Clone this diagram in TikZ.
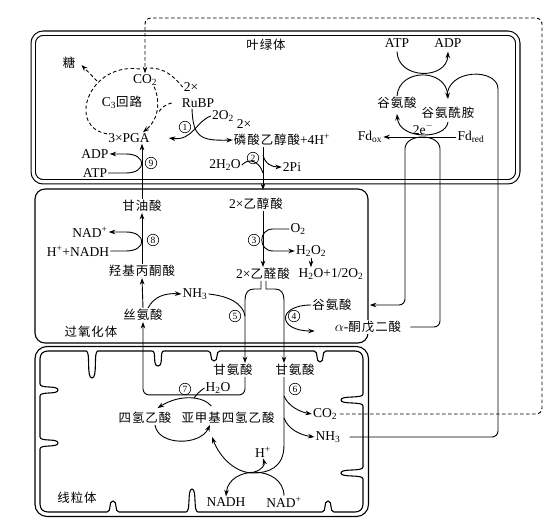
\documentclass[tikz,border=0pt]{standalone}
\usepackage{fontspec}
\setmainfont{Liberation Serif}
\newfontfamily\cjk[Scale=0.92,LetterSpace=8]{Noto Sans CJK SC}
\usetikzlibrary{arrows.meta}

\newcommand{\zh}[1]{{\cjk #1}}

\tikzset{
  lbl/.style={inner sep=1pt},
  circnum/.style={circle, draw, line width=0.6pt, inner sep=0pt, minimum size=11.5pt, font=\fontsize{9.5}{9.5}\selectfont},
  conn/.style={line width=0.9pt},
  arr/.style={conn, -{Stealth[length=6.5pt,width=4.6pt]}},
  dashconn/.style={conn, dash pattern=on 3.5pt off 2.5pt},
  membrane/.style={line width=1.1pt},
}

\begin{document}
\begin{tikzpicture}[x=1pt, y=-1pt, font=\fontsize{13.5}{15}\selectfont]
\useasboundingbox (0,0) rectangle (555,529);

% membranes
\draw[membrane, double, double distance=3.2pt, rounded corners=10] (33.2,33.2) rectangle (517.8,181.8);
\draw[membrane, rounded corners=10] (35,189) rectangle (368,343);
\draw[membrane, rounded corners=12] (35,346.5) rectangle (368.5,516.5);
\draw[membrane] (48,351)
  -- (86,351) .. controls (91,351) and (86,378) .. (92,378) .. controls (98,378) and (93,351) .. (98,351)
  -- (152,351) .. controls (157,351) and (152,366) .. (158,366) .. controls (164,366) and (159,351) .. (164,351)
  -- (208,351) .. controls (213,351) and (209,361) .. (214,361) .. controls (219,361) and (215,351) .. (220,351)
  -- (314,351) .. controls (319,351) and (315,362) .. (320,362) .. controls (325,362) and (321,351) .. (326,351)
  -- (355,351) .. controls (360,351) and (363,354) .. (363,359)
  -- (363,394) .. controls (363,399) and (341,395) .. (341,400) .. controls (341,405) and (363,401) .. (363,406)
  -- (363,467) .. controls (363,472) and (341,468) .. (341,473) .. controls (341,478) and (363,474) .. (363,479)
  -- (363,504) .. controls (363,509) and (360,512) .. (355,512)
  -- (334,512) .. controls (329,512) and (333,501) .. (328,501) .. controls (323,501) and (327,512) .. (322,512)
  -- (198,512) .. controls (193,512) and (197,489) .. (192,489) .. controls (187,489) and (191,512) .. (186,512)
  -- (119,512) .. controls (114,512) and (118,501) .. (113,501) .. controls (108,501) and (112,512) .. (107,512)
  -- (48,512) .. controls (43,512) and (40,509) .. (40,504)
  -- (40,449) .. controls (40,444) and (58,448) .. (58,443) .. controls (58,438) and (40,442) .. (40,437)
  -- (40,396) .. controls (40,391) and (58,395) .. (58,390) .. controls (58,385) and (40,389) .. (40,384)
  -- (40,359) .. controls (40,354) and (43,351) .. (48,351) -- cycle;

% chloroplast
\node[lbl] (yelv) at (266,45) {\zh{叶绿体}};
\node[lbl] (tang) at (69,63) {\zh{糖}};
\node[lbl] (co2a) at (145,80) {CO\textsubscript{2}};
\node[lbl] (c3) at (122,102) {C\textsubscript{3}\zh{回路}};
\node[lbl] (times1) at (191,87) {2×};
\node[lbl] (rubp) at (198,103) {RuBP};
\node[lbl] (pga) at (129,138) {3×PGA};
\node[circnum] (n1) at (185,127) {1};
\node[lbl] (o2a) at (223,116) {2O\textsubscript{2}};
\node[lbl] (times2) at (244,124) {2×};
\node[lbl] (plyc) at (282,140) {\zh{磷酸乙醇酸}+4H\textsuperscript{+}};
\node[lbl] (h2oa) at (225,165) {2H\textsubscript{2}O};
\node[circnum] (n2) at (253,158) {2};
\node[lbl] (pi2) at (292,167) {2Pi};
\node[lbl] (adp9) at (95,154) {ADP};
\node[lbl] (atp9) at (95,173) {ATP};
\node[circnum] (n9) at (151,163) {9};
\node[lbl] (atpc) at (397,43) {ATP};
\node[lbl] (adpc) at (448,43) {ADP};
\node[lbl] (gluc) at (397,103) {\zh{谷氨酸}};
\node[lbl] (glnc) at (448,113) {\zh{谷氨酰胺}};
\node[lbl] (elec) at (423,129) {2e\textsuperscript{$-$}};
\node[lbl] (fdox) at (370,137) {Fd\textsubscript{ox}};
\node[lbl] (fdred) at (471,137) {Fd\textsubscript{red}};

% peroxisome
\node[lbl] (glyc) at (142,206) {\zh{甘油酸}};
\node[circnum] (n8) at (153,240) {8};
\node[lbl] (nad8) at (90,232) {NAD\textsuperscript{+}};
\node[lbl] (nadh8) at (78,251) {H\textsuperscript{+}+NADH};
\node[lbl] (hpyr) at (142,271) {\zh{羟基丙酮酸}};
\node[lbl] (ser) at (143,315) {\zh{丝氨酸}};
\node[lbl] (nh3p) at (195,294) {NH\textsubscript{3}};
\node[lbl] (guo) at (91,332) {\zh{过氧化体}};
\node[lbl] (glyo) at (256,204) {2×\zh{乙醇酸}};
\node[circnum] (n3) at (254,240) {3};
\node[lbl] (o2b) at (298,229) {O\textsubscript{2}};
\node[lbl] (h2o2b) at (311,251) {H\textsubscript{2}O\textsubscript{2}};
\node[lbl] (h2oh) at (331,274) {H\textsubscript{2}O+1/2O\textsubscript{2}};
\node[lbl] (glyx) at (263,274) {2×\zh{乙醛酸}};
\node[circnum] (n5) at (235,316) {5};
\node[circnum] (n4) at (294,316) {4};
\node[lbl] (glup) at (332,305) {\zh{谷氨酸}};
\node[lbl, fill=white] (akg) at (368,327) {$\alpha$-\zh{酮戊二酸}};

% mitochondrion
\node[lbl] (glya) at (233,370) {\zh{甘氨酸}};
\node[lbl] (glyb) at (295,370) {\zh{甘氨酸}};
\node[circnum] (n7) at (185,389) {7};
\node[lbl] (h2om) at (218,388) {H\textsubscript{2}O};
\node[circnum] (n6) at (295,389) {6};
\node[lbl] (thf) at (145,418) {\zh{四氢乙酸}};
\node[lbl] (mthf) at (228,418) {\zh{亚甲基四氢乙酸}};
\node[lbl] (co2m) at (325,414) {CO\textsubscript{2}};
\node[lbl] (nh3m) at (328,437) {NH\textsubscript{3}};
\node[lbl] (hplus) at (263,452) {H\textsuperscript{+}};
\node[lbl] (nadhm) at (226,502) {NADH};
\node[lbl] (nadm) at (284,502) {NAD\textsuperscript{+}};
\node[lbl] (xian) at (77,498) {\zh{线粒体}};

% long return lines
\draw[dashconn, arr, rounded corners=6] ([xshift=2pt]co2m.east) -| (542,18) -| (co2a.north);
\draw[conn, rounded corners=6] ([xshift=8pt]nh3m.east) -| (498,95) .. controls (498,68) and (447,68) .. (447,97);

% Calvin cycle and oxygenation
\draw[dashconn] (140,69) .. controls (88,62) and (66,128) .. (108,134);
\draw[dashconn, arr] (97,81) -- ([shift={(5pt,-2pt)}]tang.east);
\draw[dashconn] (150,68) .. controls (163,68) and (173,75) .. (times1.west);
\draw[dashconn, arr] ([xshift=-4pt]co2a.south east) .. controls (160,100) and (160,118) .. ([xshift=14pt]pga.north);
\draw[dashconn] ([xshift=-9pt]rubp.west) .. controls (166,104) and (161,108) .. (158,113);
\draw[arr] ([xshift=-6pt]rubp.south) .. controls (193,137) and (200,141) .. (plyc.west);
\draw[arr] (o2a.west) .. controls (196,121) and (193,141) .. ([xshift=18pt]pga.east);

% step 2
\draw[arr, shorten >=7pt] ([xshift=-19pt]plyc.south) -- ([xshift=7pt]glyo.north);
\draw[conn] (h2oa.east) .. controls (248,158) and (259,160) .. (263,173);
\draw[arr] (263,155) .. controls (265,164) and (272,167) .. (pi2.west);

% step 9
\draw[arr] (glyc.north) -- (glyc.north |- pga.south);
\draw[arr] (atp9.east) -- (126,173) .. controls (147,173) and (147,154) .. (126,154) -- (adp9.east);

% glutamate synthesis
\draw[arr] ([yshift=-3pt]atpc.south) .. controls (398,80) and (447,80) .. ([yshift=-3pt]adpc.south);
\draw[arr] (gluc.north) .. controls (399,68) and (446,68) .. ([yshift=7pt]glnc.north);
\draw[arr] ([yshift=-2pt]glnc.south) .. controls (446,140) and (399,140) .. ([yshift=-4pt]gluc.south);
\draw[arr] (fdred.west) -- (fdox.east);
\draw[arr, rounded corners=6] ([xshift=8pt]akg.east) -| (440,155) .. controls (440,133) and (405,133) .. (405,155) |- ([xshift=17pt]glup.east);

% step 8
\draw[arr] (hpyr.north) -- (glyc.south);
\draw[arr] (nadh8.east) -- (126,251) .. controls (147,251) and (147,232) .. (126,232) -- (nad8.east);

% serine and step 5
\draw[arr] (ser.north) -- (hpyr.south);
\draw[arr] ([xshift=5pt]ser.north) .. controls (154,296) and (166,293) .. (nh3p.west);
\draw[conn] (nh3p.east) .. controls (228,296) and (243,303) .. (245,316);

% step 3
\draw[arr] ([xshift=7pt]glyo.south) -- (glyx.north);
\draw[arr] (o2b.west) -- (273,229) .. controls (258,229) and (258,251) .. (273,251) -- (h2o2b.west);
\draw[arr] (h2o2b.south) -- (h2o2b.south |- h2oh.north);

% glyoxylate to glycine, step 4
\draw[arr] ([xshift=-2pt]glyx.south) -- (261,289) -- (254,289) .. controls (248,289) and (245,293) .. (245,300) -- ([xshift=12pt]glya.north);
\draw[arr] ([xshift=3pt]glyx.south) -- (266,289) -- (275,289) .. controls (281,289) and (284,293) .. (284,300) -- ([xshift=-11pt]glyb.north);
\draw[arr] (glup.west) .. controls (277,305) and (277,331) .. ([shift={(-19pt,-4pt)}]akg.west);

% step 7
\draw[arr, rounded corners=6] ([xshift=12pt]glya.south) -- ++(0,18) -| (ser.south);
\draw[conn] (h2om.west) .. controls (200,391) and (197,394) .. (194,398);
\draw[arr] ([shift={(31pt,5pt)}]mthf.north west) .. controls (203,396) and (180,394) .. ([shift={(-15pt,3pt)}]thf.north east);

% step 6
\draw[arr] ([xshift=10pt]thf.south) .. controls (158,446) and (200,446) .. ([xshift=-18pt]mthf.south);
\draw[arr] ([xshift=-11pt]glyb.south) -- (284,445) .. controls (284,468) and (268,473) .. (253,473) .. controls (236,473) and (220,458) .. ([shift={(-16pt,-12pt)}]mthf.south);
\draw[arr] (284,396) .. controls (288,406) and (300,412) .. (co2m.west);
\draw[arr] (284,418) .. controls (288,429) and (300,435) .. (nh3m.west);
\draw[arr] (254,472) .. controls (262,470) and (265,465) .. (hplus.south);
\draw[arr] (nadm.north) .. controls (283,465) and (229,465) .. (nadhm.north);

\end{tikzpicture}
\end{document}
